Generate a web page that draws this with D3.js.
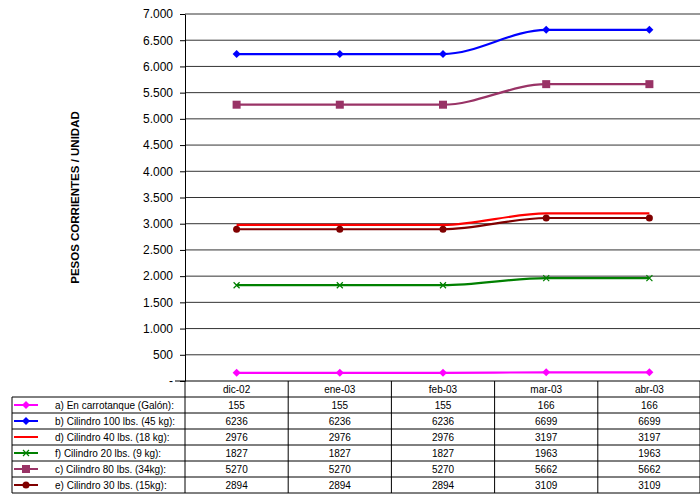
<!DOCTYPE html>
<html><head><meta charset="utf-8">
<script src="https://cdn.jsdelivr.net/npm/d3@7"></script>
<style>body{margin:0;background:#fff}text{font-family:Arial,"Liberation Sans",sans-serif}</style>
</head><body>
<svg id="chart" width="700" height="495"></svg>
<script>
const months = ["dic-02", "ene-03", "feb-03", "mar-03", "abr-03"]
const seriesNames = ["a) En carrotanque (Galón):", "b) Cilindro 100 lbs. (45 kg):", "d) Cilindro 40 lbs. (18 kg):",
  "f) Cilindro 20 lbs. (9 kg):", "c) Cilindro 80 lbs. (34kg):", "e) Cilindro 30 lbs. (15kg):"]
const carrotanque = [155, 155, 155, 166, 166]
const cil100 = [6236, 6236, 6236, 6699, 6699]
const cil40 = [2976, 2976, 2976, 3197, 3197]
const cil20 = [1827, 1827, 1827, 1963, 1963]
const cil80 = [5270, 5270, 5270, 5662, 5662]
const cil30 = [2894, 2894, 2894, 3109, 3109]
const yTicks = [0, 500, 1000, 1500, 2000, 2500, 3000, 3500, 4000, 4500, 5000, 5500, 6000, 6500, 7000]

const seriesValues = [carrotanque, cil100, cil40, cil20, cil80, cil30]
const colors = ["#FF00FF", "#0000FF", "#FF0000", "#008000", "#993366", "#800000"]
const markers = ["diamond", "diamond", "none", "x", "square", "circle"]

const LEFT = 185, RIGHT = 701, TOP = 14, BOTTOM = 381, ROW = 16

let svg = d3.select("#chart")

let xScale = d3.scaleBand().domain(months).range([LEFT, RIGHT])
let yScale = d3.scaleLinear().domain([0, 7000]).range([BOTTOM, TOP])

// grid
svg.append("g").selectAll("line").data(yTicks.slice(1)).join("line")
  .attr("x1", LEFT).attr("x2", RIGHT)
  .attr("y1", d => yScale(d)).attr("y2", d => yScale(d))
  .attr("stroke", "#333").attr("stroke-width", 1)

let yAxis = svg.append("g").attr("transform", `translate(${LEFT},0)`)
  .call(d3.axisLeft(yScale).tickValues(yTicks).tickSize(5).tickSizeOuter(0)
    .tickFormat(d => d === 0 ? "-" : d3.format(",")(d).replace(/,/g, ".")))
yAxis.select(".domain").attr("stroke", "#000")
yAxis.selectAll("text").attr("font-size", 12).attr("fill", "#000").attr("dx", -4)

svg.append("text").attr("transform", `translate(79,${(TOP + BOTTOM) / 2}) rotate(-90)`)
  .attr("text-anchor", "middle").attr("font-size", 11.5).attr("font-weight", "bold").text("PESOS CORRIENTES / UNIDAD")

// table
let tbl = svg.append("g")
let nRows = seriesNames.length
tbl.append("line").attr("x1", LEFT - 10).attr("x2", RIGHT).attr("y1", BOTTOM).attr("y2", BOTTOM).attr("stroke", "#000")
for (let i = 1; i <= nRows + 1; i++) {
  tbl.append("line").attr("x1", 12).attr("x2", RIGHT).attr("y1", BOTTOM + i * ROW).attr("y2", BOTTOM + i * ROW).attr("stroke", "#000")
}
tbl.append("line").attr("x1", 12).attr("x2", 12).attr("y1", BOTTOM + ROW).attr("y2", BOTTOM + (nRows + 1) * ROW).attr("stroke", "#000")
months.forEach(m => {
  tbl.append("line").attr("x1", xScale(m)).attr("x2", xScale(m)).attr("y1", BOTTOM).attr("y2", BOTTOM + (nRows + 1) * ROW).attr("stroke", "#000")
})
tbl.append("line").attr("x1", RIGHT - 1).attr("x2", RIGHT - 1).attr("y1", BOTTOM).attr("y2", BOTTOM + (nRows + 1) * ROW).attr("stroke", "#000")
tbl.selectAll(".hdr").data(months).join("text")
  .attr("x", d => xScale(d) + xScale.bandwidth() / 2).attr("y", BOTTOM + ROW - 4)
  .attr("text-anchor", "middle").attr("font-size", 10).text(d => d)

function drawMarker(g, type, x, y, color) {
  if (type === "diamond") g.append("path").attr("d", `M${x},${y - 4}L${x + 4},${y}L${x},${y + 4}L${x - 4},${y}Z`).attr("fill", color)
  else if (type === "square") g.append("rect").attr("x", x - 4).attr("y", y - 4).attr("width", 8).attr("height", 8).attr("fill", color)
  else if (type === "circle") g.append("circle").attr("cx", x).attr("cy", y).attr("r", 3.5).attr("fill", color)
  else if (type === "x") g.append("path").attr("d", `M${x - 3},${y - 3}L${x + 3},${y + 3}M${x - 3},${y + 3}L${x + 3},${y - 3}`).attr("stroke", color).attr("stroke-width", 1.2)
}

seriesNames.forEach((name, i) => {
  let ry = BOTTOM + (i + 1) * ROW
  let cy = ry + ROW / 2
  tbl.append("line").attr("x1", 14).attr("x2", 38).attr("y1", cy).attr("y2", cy).attr("stroke", colors[i]).attr("stroke-width", 2)
  drawMarker(tbl, markers[i], 26, cy, colors[i])
  tbl.append("text").attr("x", 55).attr("y", cy + 4).attr("font-size", 10).text(name)
  seriesValues[i].forEach((v, j) => {
    tbl.append("text").attr("x", xScale(months[j]) + xScale.bandwidth() / 2).attr("y", cy + 4)
      .attr("text-anchor", "middle").attr("font-size", 10).text(v)
  })
})

// lines
let line = d3.line().x((d, j) => xScale(months[j]) + xScale.bandwidth() / 2).y(d => yScale(d))
  .curve(d3.curveMonotoneX)
let lines = svg.append("g")
seriesValues.forEach((vals, i) => {
  lines.append("path").attr("d", line(vals)).attr("fill", "none").attr("stroke", colors[i]).attr("stroke-width", 2.2)
  vals.forEach((v, j) => drawMarker(lines, markers[i], xScale(months[j]) + xScale.bandwidth() / 2, yScale(v), colors[i]))
})
</script>
</body></html>
